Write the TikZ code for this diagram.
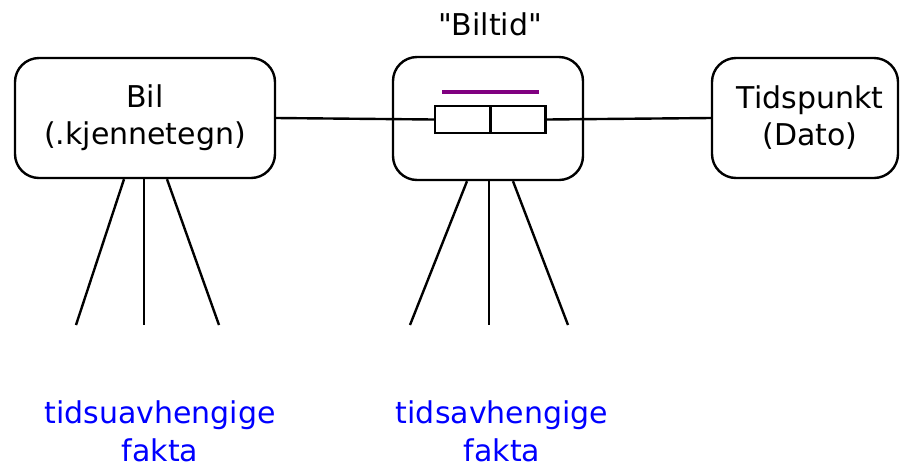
\documentclass[tikz,border=0pt]{standalone}
\usepackage{fontspec}
\setmainfont{DejaVu Sans}
\newfontfamily\qfont{DejaVu Sans}
\begin{document}
\begin{tikzpicture}[x=1pt,y=-1pt,line width=2.4pt,
  ent/.style={draw,rounded corners=24pt,line width=2.4pt,inner sep=0pt,align=center,font=\fontsize{30}{37}\selectfont},
  cell/.style={draw,line width=2.4pt,minimum width=55pt,minimum height=27pt,inner sep=0pt},
  lbl/.style={font=\fontsize{30}{38}\selectfont,align=center,inner sep=0pt},
  fakta/.style={lbl,text=blue}]
\useasboundingbox (0,0) rectangle (900,467);
\node[ent,minimum width=260pt,minimum height=120pt] (bil) at (145,118) {Bil\\(.kjennetegn)};
\node[ent,minimum width=190pt,minimum height=123pt] (mid) at (488,118.5) {};
\node[ent,minimum width=186pt,minimum height=120pt] (tid) at (805,118) {\hspace*{10pt}Tidspunkt\\\hspace*{10pt}(Dato)};
\node[cell] (c1) at (462.5,119.5) {};
\node[cell] (c2) at (518,119.5) {};
\node[lbl] (bt) at (490,24) {\qfont "Biltid"};
\coordinate (p1) at (442,92);
\coordinate (p2) at (539,92);
\draw[line width=3.5pt,draw={rgb,255:red,128;green,0;blue,128}] (p1) -- (p2);
\draw (bil.east) -- (c1.west);
\draw (c2.east) -- (tid.west);
% legs
\coordinate (b1) at (76,325);
\coordinate (b2) at (144,325);
\coordinate (b3) at (219,325);
\draw ([xshift=-21pt]bil.south) -- (b1);
\draw ([xshift=-1pt]bil.south) -- (b2);
\draw ([xshift=22pt]bil.south) -- (b3);
\coordinate (m1) at (410,325);
\coordinate (m2) at (489,325);
\coordinate (m3) at (568,325);
\draw ([xshift=-21pt]mid.south) -- (m1);
\draw ([xshift=1pt]mid.south) -- (m2);
\draw ([xshift=25pt]mid.south) -- (m3);
\node[fakta] (f1) at (160,431) {tidsuavhengige\\fakta};
\node[fakta] (f2) at (502,431) {tidsavhengige\\fakta};
\end{tikzpicture}
\end{document}
